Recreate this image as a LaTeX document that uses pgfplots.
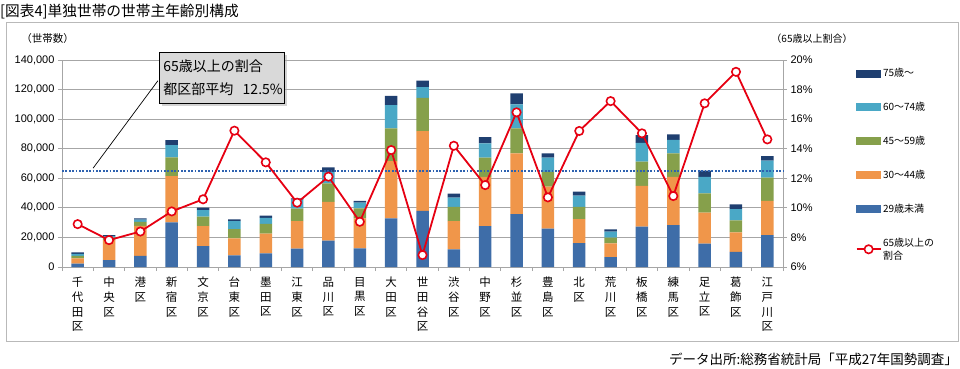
\documentclass[border=0pt]{standalone}
\usepackage{fontspec}
\setmainfont{Noto Sans CJK JP}
\newfontfamily\lat{Liberation Sans}
\usepackage{pgfplots}
\pgfplotsset{compat=1.18}
\usepackage{pgfplotstable}
\usetikzlibrary{shadows}

\definecolor{c29}{HTML}{3E6DA8}
\definecolor{c30}{HTML}{F0964A}
\definecolor{c45}{HTML}{86A04B}
\definecolor{c60}{HTML}{4AA8C6}
\definecolor{c75}{HTML}{1F3F70}
\definecolor{gridg}{HTML}{A6A6A6}
\definecolor{dotb}{HTML}{2E62B0}
\definecolor{boxg}{HTML}{D9D9D9}
\definecolor{lred}{HTML}{E60012}

\pgfplotstableread{
x a b c d e p
1 2300 3600 1700 1200 1100 8.90
2 4700 13500 1700 1000 700 7.82
3 7600 20300 2700 1400 900 8.40
4 30200 31300 12600 8400 3300 9.76
5 14200 13500 6300 4500 1600 10.58
6 7900 11500 6300 5400 1100 15.22
7 9300 13200 6600 4200 1400 13.08
8 12500 18500 8500 6000 1000 10.35
9 17800 26300 12500 7800 3000 12.11
10 12600 20300 6800 3800 1300 9.06
11 32900 38700 22100 15800 6300 13.91
12 37900 54000 22500 7300 4300 6.81
13 12000 19100 9500 6300 2700 14.20
14 27700 33300 12900 9700 4300 11.54
15 35800 41100 16800 16300 7400 16.46
16 25900 28400 10100 9500 3000 10.71
17 16200 16200 8200 7600 2700 15.20
18 6600 9400 3800 4100 1600 17.22
19 27300 27500 16400 12800 5200 15.04
20 28400 32600 15900 9000 3800 10.80
21 15800 20900 13100 11200 4100 17.07
22 10300 13200 8100 7600 3200 19.20
23 21600 23200 15600 11500 3100 14.63
}\data

\pgfplotsset{
  barleg/.style={legend image code/.code={\fill[#1] (0pt,-3.5pt) rectangle (24pt,3.5pt);}},
}

\begin{document}
\begin{tikzpicture}[x=1pt,y=1pt]
\useasboundingbox (0,0) rectangle (960,368);
\draw[gray!55, line width=0.8pt] (6,27) rectangle (958,346);
\node[anchor=base west, inner sep=0pt, font=\fontsize{14.7}{16}\selectfont] at (0,351.5) {[図表4]単独世帯の世帯主年齢別構成};
\node[anchor=base east, inner sep=0pt, font=\fontsize{13.5}{16}\selectfont] at (958,4) {データ出所:総務省統計局「平成27年国勢調査」};
\node[anchor=base, inner sep=0pt, font=\fontsize{10.5}{12}\selectfont] at (47.5,326) {（世帯数）};
\node[anchor=base, inner sep=0pt, font=\fontsize{10}{12}\selectfont] at (812,326) {（65歳以上割合）};

\begin{axis}[
  at={(62pt,101pt)}, anchor=south west, scale only axis,
  width=721pt, height=207pt,
  xmin=0.5, xmax=23.5, ymin=0, ymax=140000,
  ybar stacked, bar width=12.5pt,
  axis x line=bottom, axis y line=left,
  axis line style={-, gridg, line width=0.8pt},
  ytick={0,20000,...,140000},
  ymajorgrids, grid style={gridg, line width=0.8pt},
  tick align=outside, major tick length=4pt,
  tick style={gridg, line width=0.8pt},
  xtick={1,...,23},
  major x tick style={draw=none},
  minor xtick={0.5,1.5,...,23.5},
  minor x tick style={gridg, line width=0.8pt},
  minor tick length=4pt,
  xticklabels={{千\\代\\田\\区},{中\\央\\区},{港\\区},{新\\宿\\区},{文\\京\\区},{台\\東\\区},{墨\\田\\区},{江\\東\\区},{品\\川\\区},{目\\黒\\区},{大\\田\\区},{世\\田\\谷\\区},{渋\\谷\\区},{中\\野\\区},{杉\\並\\区},{豊\\島\\区},{北\\区},{荒\\川\\区},{板\\橋\\区},{練\\馬\\区},{足\\立\\区},{葛\\飾\\区},{江\\戸\\川\\区}},
  xticklabel style={align=center, font=\fontsize{11.5}{14.7}\selectfont, anchor=north, inner sep=0pt, yshift=-6pt},
  scaled y ticks=false,
  /pgf/number format/assume math mode=true,
  yticklabel style={font=\lat\fontsize{11}{13}\selectfont, /pgf/number format/fixed, /pgf/number format/1000 sep={,}},
]
\addplot[fill=c29, draw=none] table[x=x,y=a]{\data};
\addplot[fill=c30, draw=none] table[x=x,y=b]{\data};
\addplot[fill=c45, draw=none] table[x=x,y=c]{\data};
\addplot[fill=c60, draw=none] table[x=x,y=d]{\data};
\addplot[fill=c75, draw=none] table[x=x,y=e]{\data};
\end{axis}

\begin{axis}[
  at={(62pt,101pt)}, anchor=south west, scale only axis,
  width=721pt, height=207pt,
  xmin=0.5, xmax=23.5, ymin=6, ymax=20,
  axis x line=none, axis y line*=right,
  axis line style={-, gridg, line width=0.8pt},
  ytick={6,8,...,20},
  tick align=outside, major tick length=4pt,
  tick style={gridg, line width=0.8pt},
  /pgf/number format/assume math mode=true,
  yticklabel={\pgfmathprintnumber{\tick}\%},
  yticklabel style={font=\lat\fontsize{11}{13}\selectfont},
  clip=false,
  legend style={draw=none, fill=none, at={(1.1006,0.968)}, anchor=north west,
    inner sep=0pt, row sep=21pt, font=\fontsize{10}{13}\selectfont,
    nodes={inner sep=1.5pt, align=left}},
  legend cell align=left,
]
\addlegendimage{barleg=c75}
\addlegendentry{75歳〜}
\addlegendimage{barleg=c60}
\addlegendentry{60〜74歳}
\addlegendimage{barleg=c45}
\addlegendentry{45〜59歳}
\addlegendimage{barleg=c30}
\addlegendentry{30〜44歳}
\addlegendimage{barleg=c29}
\addlegendentry{29歳未満}
\addplot[dotb, line width=1.8pt, dash pattern=on 1.8pt off 1.6pt, forget plot] coordinates {(0.5,12.5) (23.5,12.5)};
\addplot[lred, line width=1.8pt, mark=*, mark size=4.2pt,
  mark options={fill=white, draw=lred, line width=1.6pt, solid},
  legend image code/.code={\draw[lred, line width=1.8pt, mark=*, mark size=4.2pt, mark options={fill=white, draw=lred, line width=1.6pt, solid}, mark repeat=2, mark phase=2] plot coordinates {(0pt,0pt) (12pt,0pt) (24pt,0pt)};}]
  table[x=x,y=p]{\data};
\addlegendentry{65歳以上の\\割合}
\draw[black, line width=0.7pt] (axis cs:3.56,18.6) -- (axis cs:1.49,12.68);
\node[draw=black, line width=0.8pt, fill=boxg,
  drop shadow={shadow xshift=2.5pt, shadow yshift=-2.5pt, fill=gray!70},
  anchor=north west, minimum width=125pt, minimum height=51pt,
  text width=117pt, align=left, inner xsep=4pt,
  font=\fontsize{14}{23}\selectfont] at (axis cs:3.594,20.54) {65歳以上の割合\\都区部平均~~12.5\%};
\end{axis}
\end{tikzpicture}
\end{document}
